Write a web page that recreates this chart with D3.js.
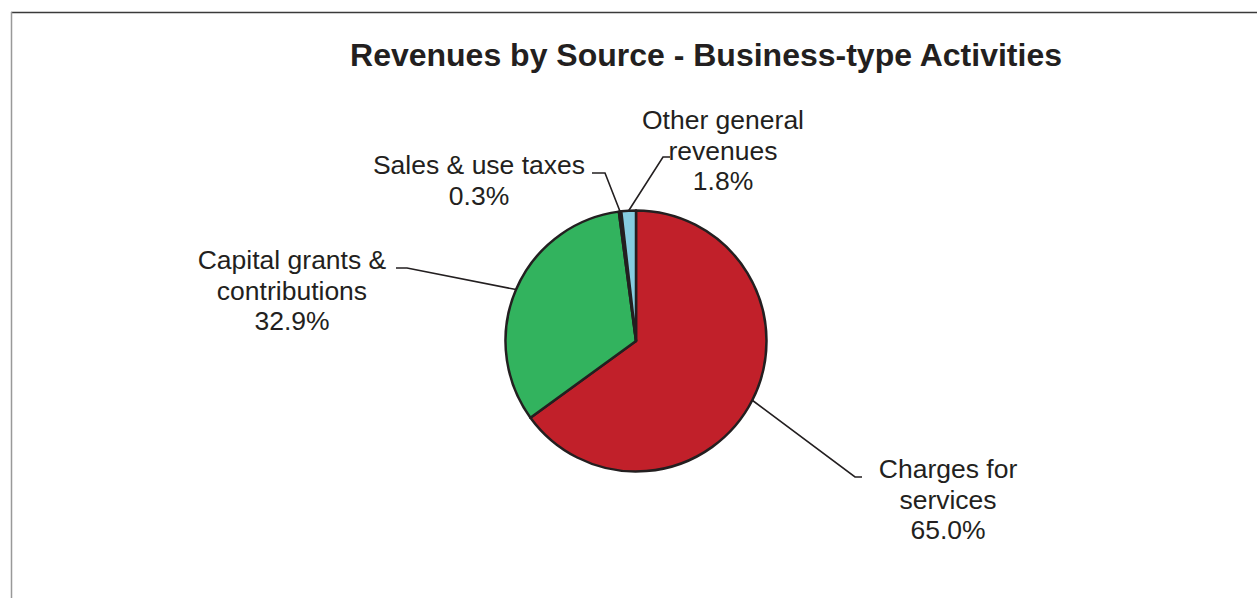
<!DOCTYPE html>
<head>
  <meta charset="utf-8">
  <script src="https://d3js.org/d3.v7.min.js"></script>
  <style>
    body { margin:0; background:#fff; }
    svg { display:block; }
    text { font-family: "Liberation Sans", Arial, sans-serif; fill:#231f20; }
  </style>
</head>

<body>
  <script>
    // chart data
    var categories = ["Charges for services", "Capital grants & contributions", "Sales & use taxes", "Other general revenues"];
    var shares = [65.0, 32.9, 0.3, 1.8];
    var labelLines = [
      ["Charges for", "services"],
      ["Capital grants &", "contributions"],
      ["Sales & use taxes"],
      ["Other general", "revenues"]
    ];
    var colors = ["#c1202a", "#32b35e", "#231f20", "#86cde1"];

    var width = 1257, height = 598;
    var cx = 636, cy = 341, radius = 130.5;

    // leader elbow / label placement (layout only)
    var layout = [
      { elbow: [855, 477], end: 862, tx: 948, ty: 478 },
      { elbow: [407, 268], end: 396, tx: 292, ty: 269 },
      { elbow: [605, 173], end: 592, tx: 479, ty: 174 },
      { elbow: [663, 157], end: 670, tx: 723, ty: 129 }
    ];

    var svg = d3.select("body").append("svg")
      .attr("width", width)
      .attr("height", height)

    // frame
    svg.append("line").attr("x1", 11).attr("x2", width).attr("y1", 12.5).attr("y2", 12.5)
      .attr("stroke", "#3a3a3a").attr("stroke-width", 1.5)
    svg.append("line").attr("x1", 11.5).attr("x2", 11.5).attr("y1", 12).attr("y2", height)
      .attr("stroke", "#999").attr("stroke-width", 1.5)

    svg.append("text")
      .attr("x", 706).attr("y", 66)
      .attr("text-anchor", "middle")
      .style("font-size", "32px").style("font-weight", "bold")
      .text("Revenues by Source - Business-type Activities")

    var pie = d3.pie().sort(null).value(function(d) { return d; })
    var arcs = pie(shares)
    var arc = d3.arc().innerRadius(0).outerRadius(radius)

    var g = svg.append("g").attr("transform", "translate(" + cx + "," + cy + ")")

    g.selectAll("path").data(arcs)
      .enter().append("path")
      .attr("d", arc)
      .attr("fill", function(d, i) { return colors[i]; })
      .attr("stroke", "#231f20")
      .attr("stroke-width", 2.5)
      .attr("stroke-linejoin", "round")

    // leader lines from slice mid-angle
    arcs.forEach(function(d, i) {
      var a = (d.startAngle + d.endAngle) / 2;
      var sx = cx + radius * Math.sin(a), sy = cy - radius * Math.cos(a);
      var L = layout[i];
      svg.append("polyline")
        .attr("points", [[sx, sy], L.elbow, [L.end, L.elbow[1]]].map(function(p) { return p.join(","); }).join(" "))
        .attr("fill", "none")
        .attr("stroke", "#231f20")
        .attr("stroke-width", 1.6)

      var t = svg.append("text")
        .attr("text-anchor", "middle")
        .style("font-size", "26.5px")
      var lines = labelLines[i].concat([d3.format(".1f")(shares[i]) + "%"]);
      lines.forEach(function(s, j) {
        t.append("tspan").attr("x", L.tx).attr("y", L.ty + j * 30.5).text(s)
      })
    })
  </script>
</body>
